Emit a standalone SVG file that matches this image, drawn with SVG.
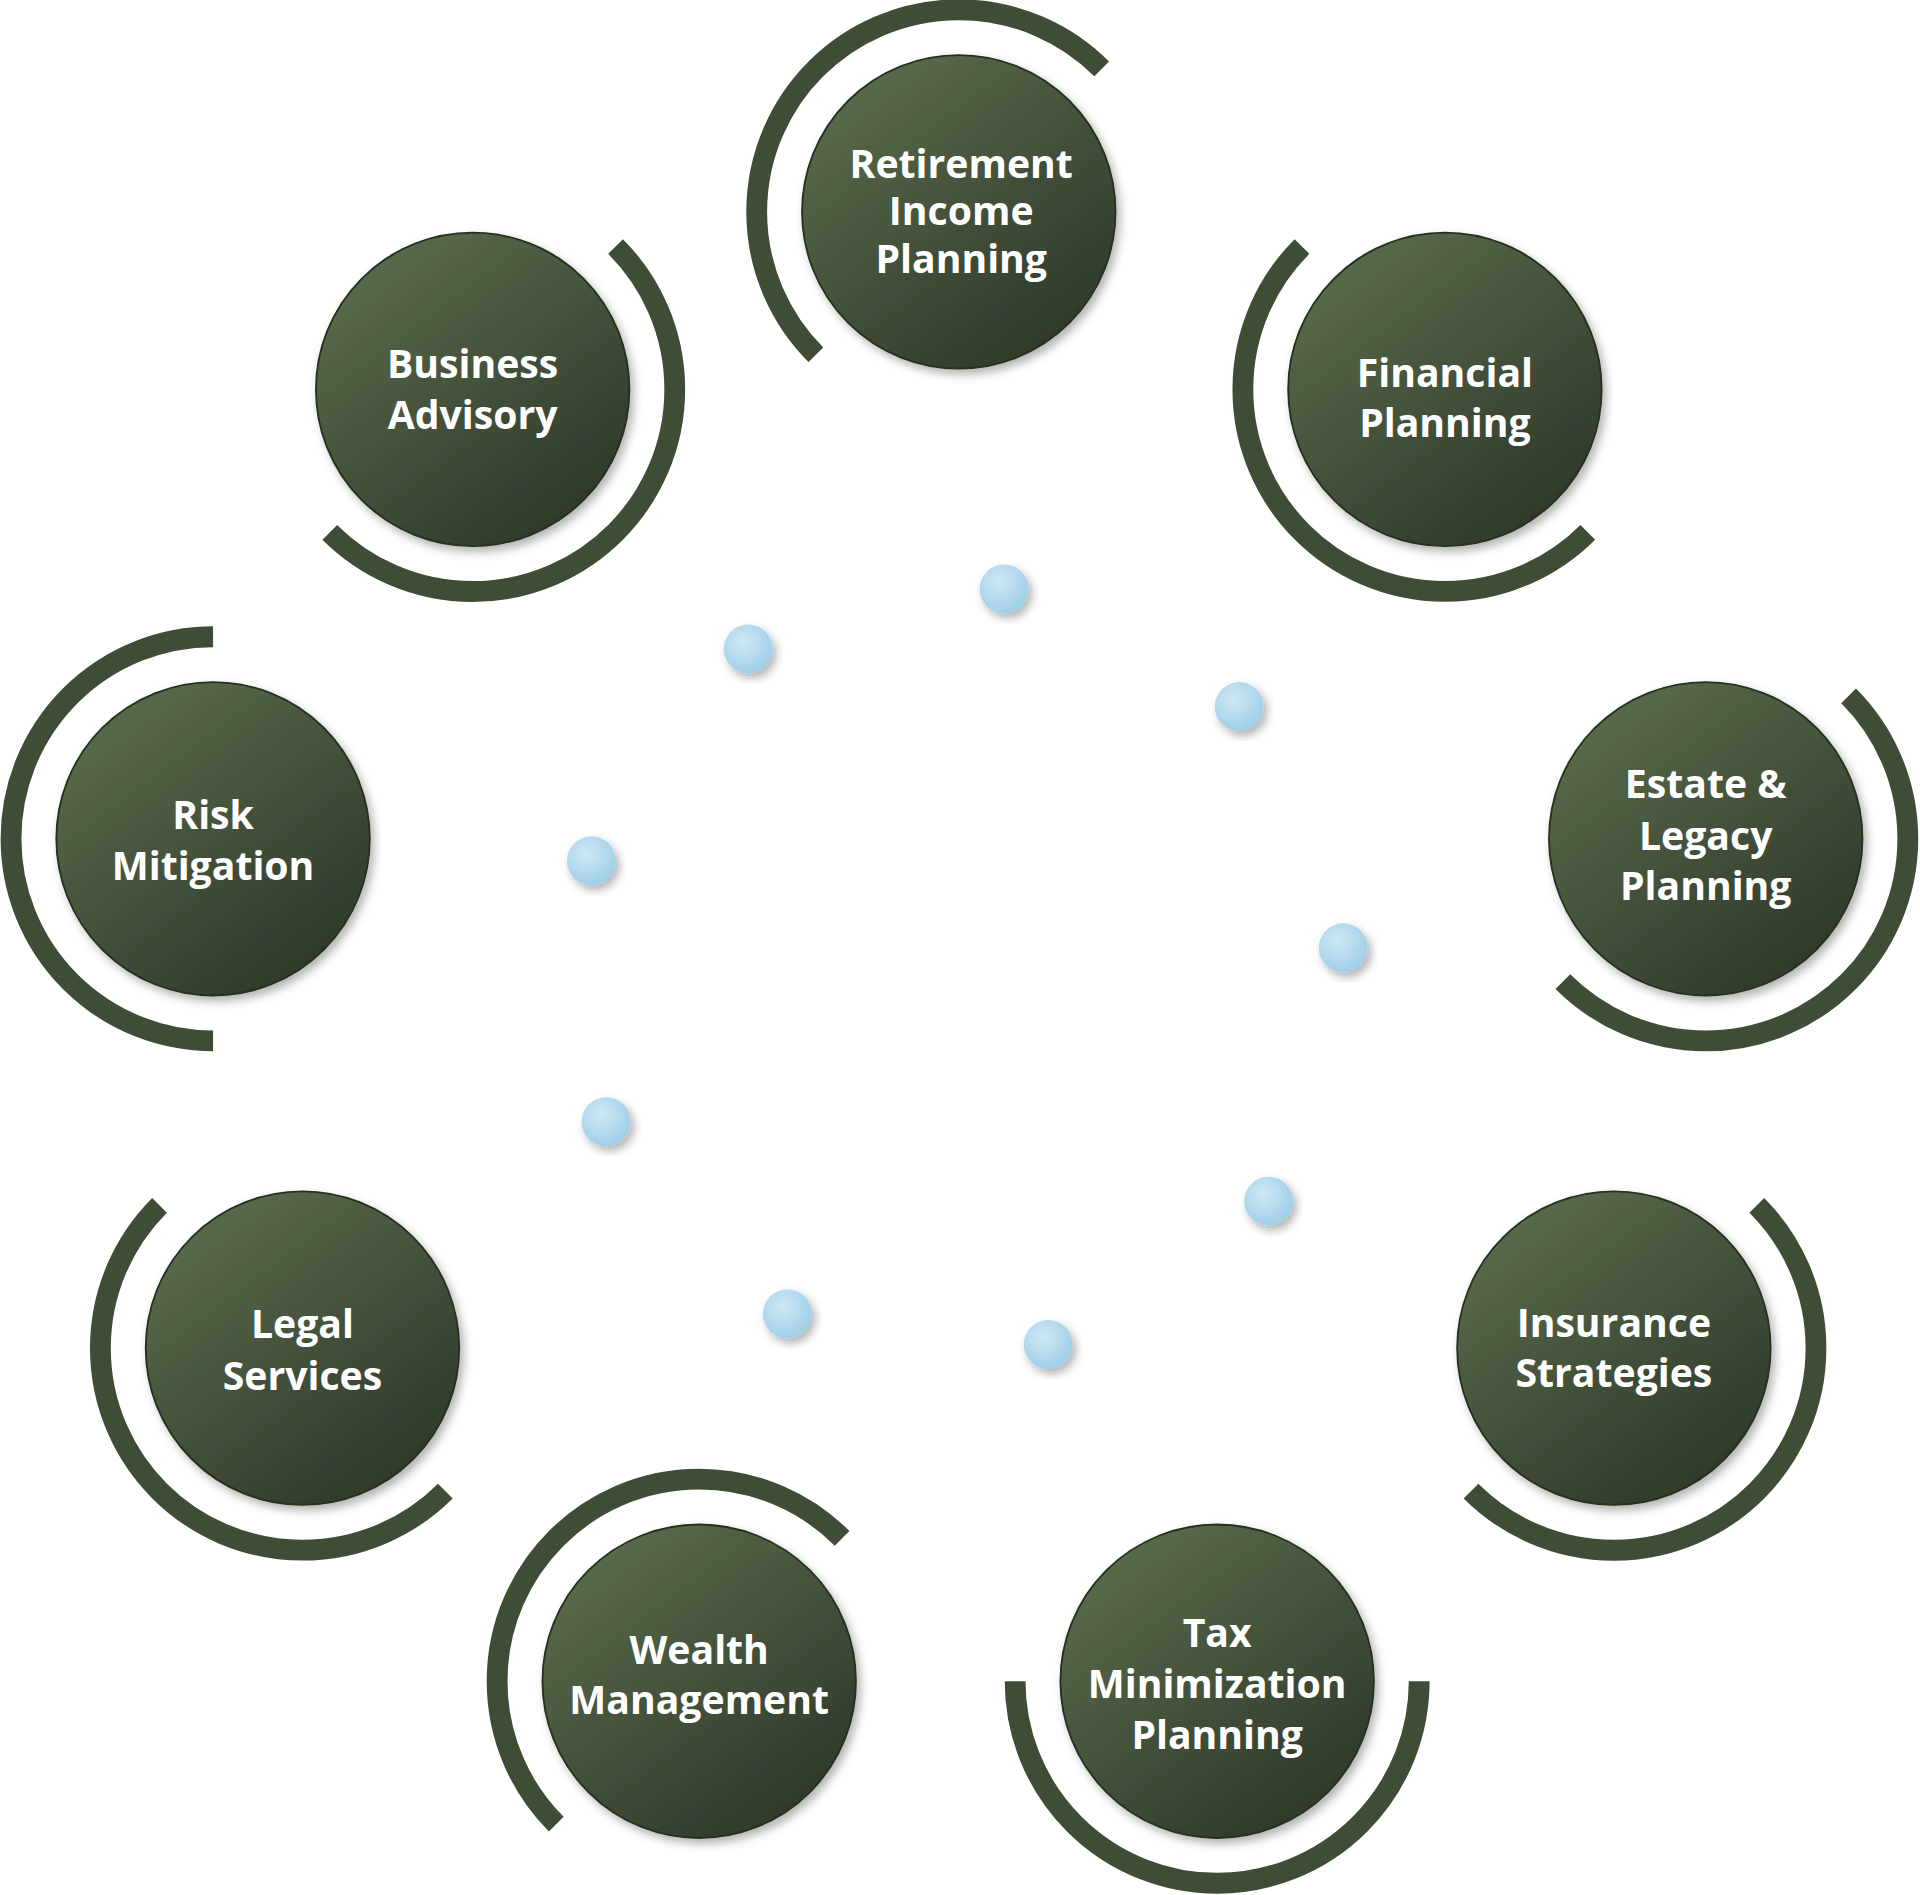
<svg xmlns="http://www.w3.org/2000/svg" width="1920" height="1895" viewBox="0 0 1920 1895">
<defs>
<linearGradient id="g" x1="0.2" y1="0.1" x2="0.8" y2="0.9"><stop offset="0" stop-color="#58694a"/><stop offset="1" stop-color="#2f3a2b"/></linearGradient>
<radialGradient id="b" cx="0.4" cy="0.35" r="0.7"><stop offset="0" stop-color="#cfe8f4"/><stop offset="1" stop-color="#9ccde8"/></radialGradient>
<filter id="sh" x="-20%" y="-20%" width="140%" height="140%"><feDropShadow dx="3" dy="4" stdDeviation="4" flood-color="#000" flood-opacity="0.3"/></filter>
</defs>
<style>
.n{fill:url(#g);stroke:#26301f;stroke-width:1.5;filter:url(#sh)}
.a{fill:none;stroke:#3f4d37;stroke-width:17}
.d{fill:url(#b);filter:url(#sh)}
.t{font-family:"Open Sans","Liberation Sans",sans-serif;font-weight:bold;font-size:32px;fill:#fff;text-anchor:middle}
</style>
<rect width="1920" height="1895" fill="#fff"/>
<g transform="scale(1.2245)">
<g id="connectors">
<path class="a" d="M899.7,56.3 A165 165 0 0 0 666.3,289.7"/>
<path class="a" d="M1063.3,201.3 A165 165 0 0 0 1296.7,434.7"/>
<path class="a" d="M502.7,201.3 A165 165 0 0 1 269.3,434.7"/>
<path class="a" d="M1509.7,568.3 A165 165 0 0 1 1276.3,801.7"/>
<path class="a" d="M174,520 A165 165 0 0 0 174,850"/>
<path class="a" d="M1434.7,984.3 A165 165 0 0 1 1201.3,1217.7"/>
<path class="a" d="M130.3,984.3 A165 165 0 0 0 363.7,1217.7"/>
<path class="a" d="M687.7,1256.3 A165 165 0 0 0 454.3,1489.7"/>
<path class="a" d="M829,1373 A165 165 0 0 0 1159,1373"/>
<circle class="d" cx="820" cy="481" r="20"/>
<circle class="d" cx="611" cy="530" r="20"/>
<circle class="d" cx="1012" cy="577" r="20"/>
<circle class="d" cx="483" cy="703" r="20"/>
<circle class="d" cx="1097" cy="774" r="20"/>
<circle class="d" cx="495" cy="916" r="20"/>
<circle class="d" cx="1036" cy="981" r="20"/>
<circle class="d" cx="643" cy="1073" r="20"/>
<circle class="d" cx="856" cy="1098" r="20"/>
</g>
<g id="retirement"><circle class="n" cx="783" cy="173" r="128"/><text class="t"><tspan x="785" y="145">Retirement</tspan><tspan x="785" y="184">Income</tspan><tspan x="785" y="223">Planning</tspan></text></g>
<g id="financial"><circle class="n" cx="1180" cy="318" r="128"/><text class="t"><tspan x="1180" y="316">Financial</tspan><tspan x="1180" y="357">Planning</tspan></text></g>
<g id="business"><circle class="n" cx="386" cy="318" r="128"/><text class="t"><tspan x="386" y="309">Business</tspan><tspan x="386" y="350">Advisory</tspan></text></g>
<g id="estate"><circle class="n" cx="1393" cy="685" r="128"/><text class="t"><tspan x="1393" y="652">Estate &amp;</tspan><tspan x="1393" y="694">Legacy</tspan><tspan x="1393" y="735">Planning</tspan></text></g>
<g id="risk"><circle class="n" cx="174" cy="685" r="128"/><text class="t"><tspan x="174" y="677">Risk</tspan><tspan x="174" y="719">Mitigation</tspan></text></g>
<g id="insurance"><circle class="n" cx="1318" cy="1101" r="128"/><text class="t"><tspan x="1318" y="1092">Insurance</tspan><tspan x="1318" y="1133">Strategies</tspan></text></g>
<g id="legal"><circle class="n" cx="247" cy="1101" r="128"/><text class="t"><tspan x="247" y="1093">Legal</tspan><tspan x="247" y="1135">Services</tspan></text></g>
<g id="wealth"><circle class="n" cx="571" cy="1373" r="128"/><text class="t"><tspan x="571" y="1359">Wealth</tspan><tspan x="571" y="1400">Management</tspan></text></g>
<g id="tax"><circle class="n" cx="994" cy="1373" r="128"/><text class="t"><tspan x="994" y="1345">Tax</tspan><tspan x="994" y="1387">Minimization</tspan><tspan x="994" y="1428">Planning</tspan></text></g>
</g>
</svg>
